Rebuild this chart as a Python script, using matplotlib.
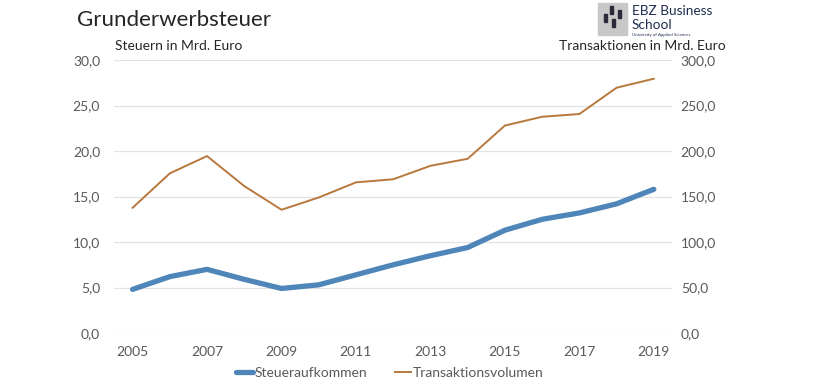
import matplotlib.pyplot as plt
from matplotlib.patches import Rectangle
from matplotlib.ticker import FuncFormatter

years = [str(y) for y in range(2005, 2020)]
steuer = [4.8, 6.2, 7.0, 5.9, 4.9, 5.3, 6.4, 7.5, 8.5, 9.4, 11.3, 12.5, 13.2, 14.2, 15.8]
transaktion = [137.7, 175.5, 194.5, 161.5, 135.5, 149.0, 165.6, 169.0, 183.8, 191.5,
               228.0, 237.7, 240.7, 269.6, 279.5]

plt.rcParams['font.family'] = ['Lato', 'DejaVu Sans']
blue = '#4f86ba'
brown = '#b8783c'
grey = '#595959'

fig = plt.figure(figsize=(8.2, 3.9), dpi=100)
ax = fig.add_axes([0.139, 0.146, 0.681, 0.7])
ax2 = ax.twinx()

x = list(range(len(years)))
l1, = ax.plot(x, steuer, color=blue, lw=3.8, solid_capstyle='round', zorder=3)
l2, = ax2.plot(x, transaktion, color=brown, lw=1.4, zorder=3)

ax.set_xlim(-0.5, len(years) - 0.5)
ax.set_ylim(0, 30)
ax2.set_ylim(0, 300)
ax.set_yticks(range(0, 31, 5))
ax2.set_yticks(range(0, 301, 50))
fmt = FuncFormatter(lambda v, p: f'{v:.1f}'.replace('.', ','))
ax.yaxis.set_major_formatter(fmt)
ax2.yaxis.set_major_formatter(fmt)
ax.set_xticks(x[::2])
ax.set_xticklabels(years[::2])

ax.grid(axis='y', color='#e3e3e3', lw=0.9)
ax.set_axisbelow(True)
for a in (ax, ax2):
    for s in a.spines.values():
        s.set_visible(False)
    a.tick_params(length=0, labelsize=10, colors=grey)
ax.tick_params(axis='y', pad=10)
ax2.tick_params(axis='y', pad=6)
ax.tick_params(axis='x', pad=9)

fig.text(77 / 820, 1 - 20 / 390, 'Grunderwerbsteuer', fontsize=16, color='#262626', va='center')
fig.text(115 / 820, 1 - 46 / 390, 'Steuern in Mrd. Euro', fontsize=10, color='#262626', va='center')
fig.text(726 / 820, 1 - 46 / 390, 'Transaktionen in Mrd. Euro', fontsize=10, color='#262626',
         va='center', ha='right')

# logo
fig.patches.append(Rectangle((598 / 820, 1 - 35 / 390), 29 / 820, 32 / 390,
                             transform=fig.transFigure, color='#c8c8c8'))
for lx, ly in [(604, 22), (610, 14), (612, 27), (618, 18)]:
    fig.patches.append(Rectangle((lx / 820, 1 - ly / 390), 3 / 820, 8 / 390,
                                 transform=fig.transFigure, color='#2a2a3a'))
fig.text(632 / 820, 1 - 11 / 390, 'EBZ Business', fontsize=9.8, color='#1f2d4f', va='center')
fig.text(632 / 820, 1 - 25 / 390, 'School', fontsize=9.8, color='#1f2d4f', va='center')
fig.text(632 / 820, 1 - 35 / 390, 'University of Applied Sciences', fontsize=3.2, color='#1f2d4f',
         va='center')

fig.legend([l1, l2], ['Steueraufkommen', 'Transaktionsvolumen'], loc='center',
           bbox_to_anchor=(390 / 820, 1 - 373 / 390), ncol=2, frameon=False,
           handlelength=1.2, handletextpad=0.1, columnspacing=2.0, fontsize=10,
           labelcolor=grey)

fig.savefig('out.png', dpi=100)
